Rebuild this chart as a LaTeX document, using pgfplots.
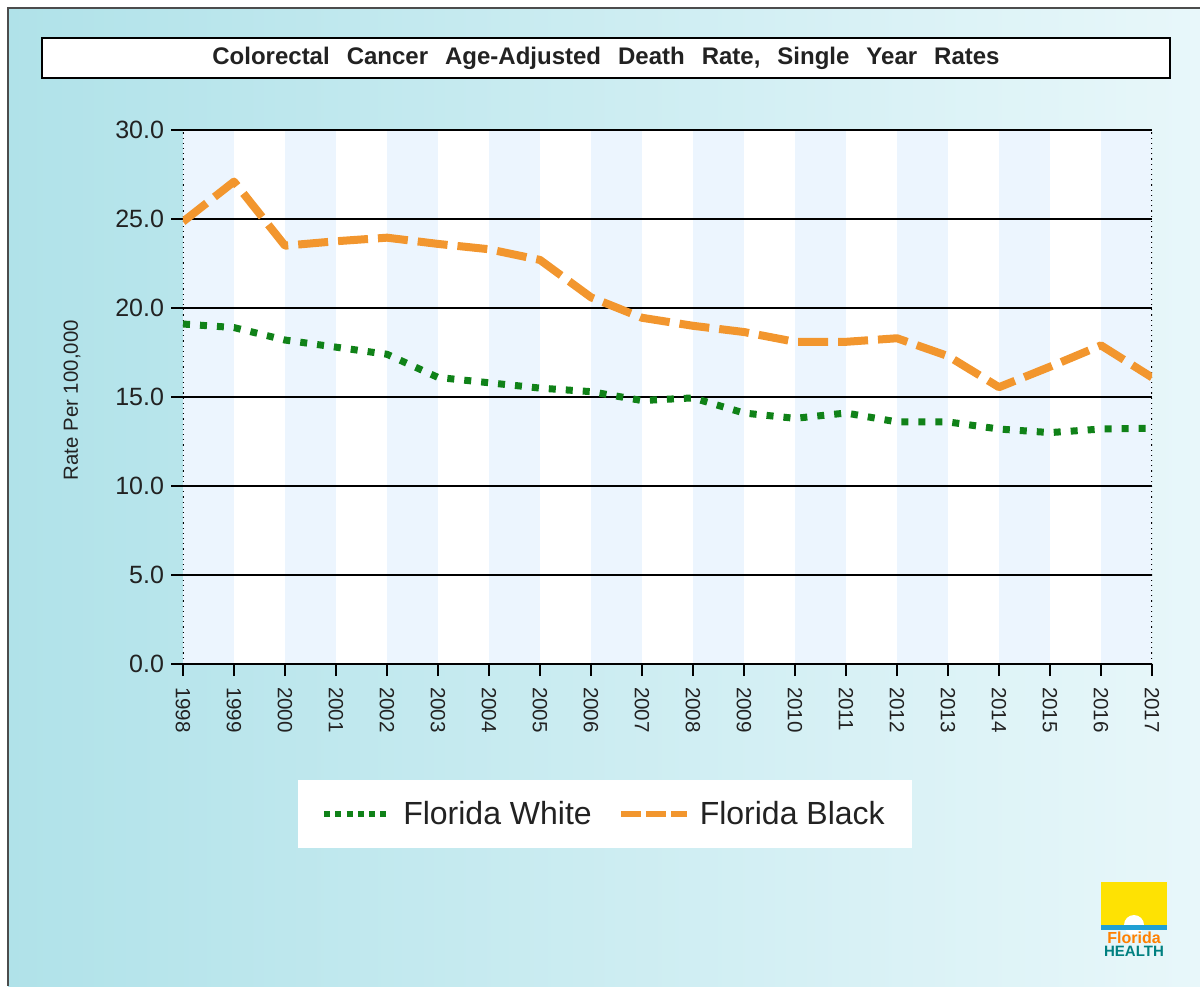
\documentclass[border=0pt]{standalone}
\usepackage{pgfplots}
\pgfplotsset{compat=1.18}
\usepackage{fontspec}
\setmainfont{Liberation Sans}

\definecolor{bgL}{RGB}{176,226,233}
\definecolor{bgR}{RGB}{232,247,250}
\definecolor{band}{RGB}{236,245,254}
\definecolor{fwhite}{RGB}{16,130,24}
\definecolor{fblack}{RGB}{242,150,46}
\definecolor{txt}{RGB}{34,34,34}
\newcommand\gap{\hspace{8.5pt}}

\begin{document}
\begin{tikzpicture}
% panel, 1 px of the reference = 0.5pt, y upwards
\fill[white] (0,0) rectangle (600pt,493pt);
\shade[left color=bgL, right color=bgR] (4pt,0) rectangle (600pt,489pt);
\draw[gray!60!black, line width=1.2pt] (4pt,0) -- (4pt,489pt) -- (600pt,489pt);

% plot area and its alternating year bands (axis: x 91.5pt..576pt, 25.5pt per year)
\fill[white] (91.5pt,161pt) rectangle (576pt,428pt);
\foreach \k in {0,2,...,18}
  \fill[band] ({91.5pt+\k*25.5pt},161pt) rectangle ({91.5pt+(\k+1)*25.5pt},428pt);

% title box
\node[draw=black, line width=1pt, fill=white, minimum width=564pt, minimum height=20pt,
      inner sep=0pt, font=\bfseries\fontsize{12}{14}\selectfont, text=txt]
  at (303pt,464pt) {Colorectal\gap Cancer\gap Age-Adjusted\gap Death\gap Rate,\gap Single\gap Year\gap Rates};

\begin{axis}[
    at={(91.5pt,161pt)}, anchor=south west,
    scale only axis,
    width=484.5pt, height=267pt,
    axis line style={draw=none},
    xmin=1998, xmax=2017, ymin=0, ymax=30,
    xtick={1998,...,2017},
    ytick={0,5,...,30},
    tick align=outside,
    xtick pos=bottom, ytick pos=left,
    major tick length=6pt,
    tick style={black, line width=0.8pt},
    ymajorgrids=true,
    grid style={black, line width=0.8pt},
    /pgf/number format/assume math mode=true,
    xticklabel shift=2pt,
    xticklabel style={rotate=-90, anchor=west, font=\fontsize{10.3}{12}\selectfont, text=txt,
        /pgf/number format/.cd, fixed, precision=0, 1000 sep={}},
    yticklabel style={font=\fontsize{12.5}{14}\selectfont, text=txt,
        /pgf/number format/.cd, fixed, fixed zerofill, precision=1},
    ylabel={Rate Per 100,000},
    ylabel style={at={(axis description cs:-0.1146,0.494)}, anchor=center,
        font=\fontsize{10.2}{12}\selectfont, text=txt},
    legend columns=2,
    legend style={at={(axis description cs:0.4355,-0.281)}, anchor=center,
        draw=none, fill=white, inner xsep=11.5pt, inner ysep=8.5pt,
        font=\fontsize{16}{19}\selectfont, text=txt,
        /tikz/every even column/.append style={column sep=11pt}},
    legend image code/.code={\draw[#1] (0pt,0pt) -- (33pt,0pt);},
]
\draw[black, dotted, line width=0.6pt] (axis cs:1998,0) -- (axis cs:1998,30);
\draw[black, dotted, line width=0.6pt] (axis cs:2017,0) -- (axis cs:2017,30);

\addplot[color=fwhite, line width=3.5pt, dash pattern=on 3.5pt off 5pt, line join=round,
    legend image post style={line width=3pt, dash pattern=on 3pt off 2.6pt}]
coordinates {
    (1998,19.1) (1999,18.9) (2000,18.2) (2001,17.8) (2002,17.4)
    (2003,16.1) (2004,15.8) (2005,15.5) (2006,15.3) (2007,14.8)
    (2008,14.95) (2009,14.1) (2010,13.8) (2011,14.1) (2012,13.6)
    (2013,13.6) (2014,13.2) (2015,13.0) (2016,13.2) (2017,13.25)
};
\addlegendentry{\hspace{3pt}Florida White}

\addplot[color=fblack, line width=4pt, dash pattern=on 15pt off 5pt, line join=round,
    legend image post style={line width=3pt, dash pattern=on 10pt off 2.5pt}]
coordinates {
    (1998,24.85) (1999,27.1) (2000,23.5) (2001,23.75) (2002,23.95)
    (2003,23.6) (2004,23.3) (2005,22.7) (2006,20.6) (2007,19.45)
    (2008,19.0) (2009,18.65) (2010,18.1) (2011,18.1) (2012,18.3)
    (2013,17.3) (2014,15.55) (2015,16.7) (2016,17.9) (2017,16.1)
};
\addlegendentry{\hspace{3pt}Florida Black\hspace{7pt}}
\end{axis}

% Florida Health logo
\fill[yellow!85!orange] (550.5pt,30.5pt) rectangle (583.5pt,52pt);
\fill[white] (567pt,30.5pt) circle (5pt);
\fill[cyan!70!teal] (550.5pt,28pt) rectangle (583.5pt,30.5pt);
\node[font=\bfseries\fontsize{8}{9}\selectfont, text=orange, inner sep=0pt] at (567pt,24pt) {Florida};
\node[font=\bfseries\fontsize{7.5}{9}\selectfont, text=teal, inner sep=0pt] at (567pt,17.5pt) {HEALTH};

\pgfresetboundingbox
\useasboundingbox (0,0) rectangle (600pt,493pt);
\end{tikzpicture}
\end{document}
